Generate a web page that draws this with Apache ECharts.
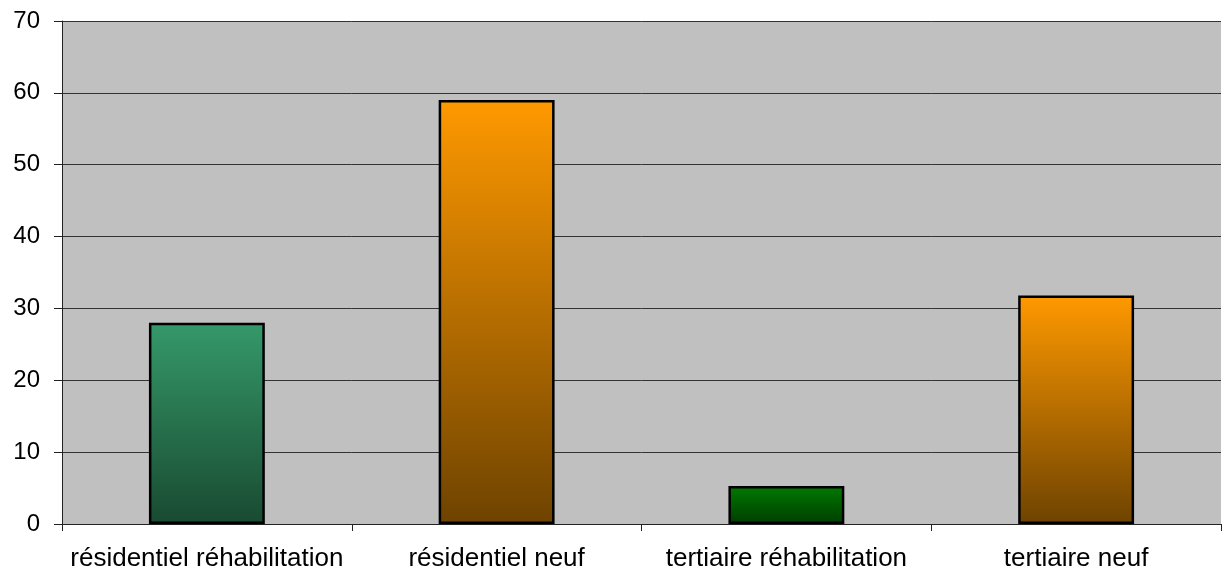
<!DOCTYPE html>
<html>
<head>
<meta charset="utf-8">
<script src="https://cdn.jsdelivr.net/npm/echarts@6/dist/echarts.min.js"></script>
<style>
  html, body { margin: 0; padding: 0; background: #fff; }
  #chart { width: 1222px; height: 576px; }
</style>
</head>
<body>
<div id="chart"></div>
<script>
// Values.
const categories = ['résidentiel réhabilitation', 'résidentiel neuf', 'tertiaire réhabilitation', 'tertiaire neuf'];
const values = [28, 59, 5.3, 31.8];
// top / bottom colour of each bar's vertical gradient
const topColors = ['#35996a', '#ff9900', '#007a00', '#ff9900'];
const bottomColors = ['#194a31', '#6e4300', '#003d00', '#6e4300'];

const grad = (i) => new echarts.graphic.LinearGradient(0, 0, 0, 1, [
  { offset: 0, color: topColors[i] },
  { offset: 1, color: bottomColors[i] },
]);

const chart = echarts.init(document.getElementById('chart'), null, { renderer: 'canvas' });
chart.setOption({
  animation: false,
  grid: { left: 62, right: 1, top: 21, bottom: 52, backgroundColor: '#c0c0c0', show: true, borderWidth: 0 },
  xAxis: {
    type: 'category', data: categories, boundaryGap: true,
    axisLine: { lineStyle: { color: '#222', width: 1 } },
    axisTick: { show: true, length: 7, interval: 0, lineStyle: { color: '#222' } },
    axisLabel: { interval: 0, fontFamily: 'Liberation Sans, Arial', fontSize: 26, color: '#000', margin: 22 },
  },
  yAxis: {
    type: 'value', min: 0, max: 70, interval: 10,
    axisLine: { show: true, lineStyle: { color: '#222', width: 1 } },
    axisTick: { show: true, length: 8, lineStyle: { color: '#222' } },
    axisLabel: { fontFamily: 'Liberation Sans, Arial', fontSize: 24, color: '#000', margin: 22 },
    splitLine: { lineStyle: { color: '#333', width: 1 } },
  },
  series: [{
    type: 'bar', barWidth: '40%',
    data: values.map((v, i) => ({
      value: v,
      itemStyle: { color: grad(i), borderColor: '#000', borderWidth: 2.5 },
    })),
  }],
});
</script>
</body>
</html>
